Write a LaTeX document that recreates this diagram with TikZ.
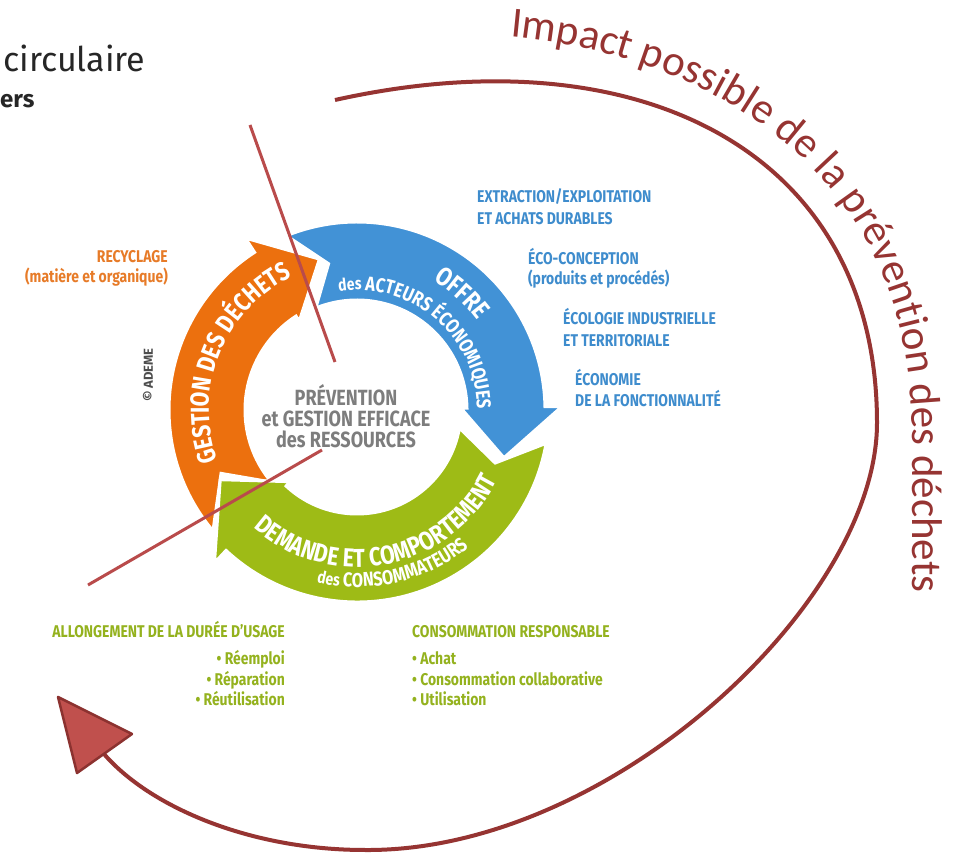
\documentclass[tikz,border=0pt]{standalone}
\usepackage{fontspec}
\usepackage{tikz}
\usetikzlibrary{decorations.text}
\setmainfont{Fira Sans}
\newfontfamily\adfont[FakeStretch=0.82]{Fira Sans}
\newfontfamily\calfont{Carlito}

\definecolor{ringorange}{RGB}{236,112,14}
\definecolor{ringblue}{RGB}{66,146,214}
\definecolor{ringgreen}{RGB}{158,187,22}
\definecolor{txtblue}{RGB}{62,140,205}
\definecolor{txtorange}{RGB}{231,123,40}
\definecolor{txtgreen}{RGB}{148,178,30}
\definecolor{txtgray}{RGB}{125,125,125}
\definecolor{impactred}{RGB}{150,52,50}
\definecolor{slashred}{RGB}{185,75,75}
\definecolor{headfill}{RGB}{192,80,77}
\definecolor{headline}{RGB}{140,50,48}

\newcommand\ringbig{\adfont\bfseries\fontsize{26}{26}\selectfont\color{white}}
\newcommand\ringmid{\adfont\bfseries\fontsize{20}{20}\selectfont\color{white}}
\newcommand\ringsmall{\adfont\bfseries\fontsize{17}{17}\selectfont\color{white}}

\tikzset{
  sidetext/.style={font=\adfont\bfseries\fontsize{17}{17}\selectfont, inner sep=0pt},
  slash/.style={slashred, line width=3pt},
  impactline/.style={impactred, line width=4pt}
}

\begin{document}
\begin{tikzpicture}[x=1pt,y=1pt]
  \useasboundingbox (0,0) rectangle (959,852);
  \fill[white] (0,0) rectangle (959,852);

  % titre coupe
  \node[anchor=base west, inner sep=0pt, font=\fontsize{34}{34}\selectfont, text=black!85] (title) at (3,780) {circulaire};
  \node[anchor=base west, inner sep=0pt, font=\bfseries\fontsize{24}{24}\selectfont, text=black!85] (subtitle) at (0,744) {ers};

  % anneau
  \begin{scope}[shift={(357,442)}]
    \foreach \col/\ta/\na/\ba/\tip/\ri/\ro in {ringorange/220/205/123/104/112/188, ringblue/112/101/1/-18/110/188, ringgreen/-10/-21/-133/-153/104/192}{
      \pgfmathsetmacro\rmid{(\ri+\ro)/2}
      \pgfmathsetmacro\rin{\ri-6}
      \pgfmathsetmacro\rout{\ro+17}
      \pgfmathsetmacro\rtip{(\rin+\rout)/2}
      \filldraw[fill=\col, draw=white, line width=3pt, line join=miter]
        (\ta:\ro) arc[start angle=\ta, end angle=\ba, radius=\ro pt] -- (\ba:\rout) -- (\tip:\rtip)
        -- (\ba:\rin) -- (\ba:\ri) arc[start angle=\ba, end angle=\ta, radius=\ri pt] -- (\na:\rmid) -- cycle;
    }
    % textes sur l'anneau
    \path[decorate, decoration={text along path, text align=center,
      text={|\ringbig|GESTION DES DÉCHETS}}] (218:148) arc[start angle=218, end angle=98, radius=148pt];
    \path[decorate, decoration={text along path, text align=center,
      text={|\ringbig|OFFRE}}] (78:150) arc[start angle=78, end angle=18, radius=150pt];
    \path[decorate, decoration={text along path, text align=center,
      text={|\ringsmall|des |\ringmid|ACTEURS ÉCONOMIQUES}}] (105:120) arc[start angle=105, end angle=-6, radius=120pt];
    \path[decorate, decoration={text along path, text align=center,
      text={|\ringbig|DEMANDE ET COMPORTEMENT}}] (221:157) arc[start angle=221, end angle=341, radius=157pt];
    \path[decorate, decoration={text along path, text align=center,
      text={|\ringsmall|des |\ringmid|CONSOMMATEURS}}] (238:177) arc[start angle=238, end angle=328, radius=177pt];
  \end{scope}

  % centre
  \node[align=center, inner sep=0pt, text=txtgray, font=\adfont\bfseries\fontsize{22}{21}\selectfont] (centre) at (346,436)
    {PRÉVENTION\\et GESTION EFFICACE\\des RESSOURCES};
  \node[rotate=90, inner sep=0pt, text=black!70, font=\bfseries\fontsize{13}{13}\selectfont] (ademe) at (148,477) {© ADEME};

  % textes lateraux
  \node[sidetext, text=txtorange, anchor=base east] (recy) at (168,589) {RECYCLAGE};
  \node[sidetext, text=txtorange, anchor=base east] (recyb) at (168,569) {(matière et organique)};

  \node[sidetext, text=txtblue, anchor=base west] (extr) at (477,649) {EXTRACTION/EXPLOITATION};
  \node[sidetext, text=txtblue, anchor=base west] (extrb) at (477,627) {ET ACHATS DURABLES};
  \node[sidetext, text=txtblue, anchor=base west] (eco) at (528,587) {ÉCO-CONCEPTION};
  \node[sidetext, text=txtblue, anchor=base west] (ecob) at (528,567) {(produits et procédés)};
  \node[sidetext, text=txtblue, anchor=base west] (indu) at (563,527) {ÉCOLOGIE INDUSTRIELLE};
  \node[sidetext, text=txtblue, anchor=base west] (indub) at (563,505) {ET TERRITORIALE};
  \node[sidetext, text=txtblue, anchor=base west] (fonc) at (575,466) {ÉCONOMIE};
  \node[sidetext, text=txtblue, anchor=base west] (foncb) at (575,445) {DE LA FONCTIONNALITÉ};

  \node[sidetext, text=txtgreen, anchor=base east] (allo) at (285,214) {ALLONGEMENT DE LA DURÉE D’USAGE};
  \node[sidetext, text=txtgreen, anchor=base east] (allo1) at (285,187) {• Réemploi};
  \node[sidetext, text=txtgreen, anchor=base east] (allo2) at (285,166) {• Réparation};
  \node[sidetext, text=txtgreen, anchor=base east] (allo3) at (285,146) {• Réutilisation};
  \node[sidetext, text=txtgreen, anchor=base west] (cons) at (412,214) {CONSOMMATION RESPONSABLE};
  \node[sidetext, text=txtgreen, anchor=base west] (cons1) at (412,187) {• Achat};
  \node[sidetext, text=txtgreen, anchor=base west] (cons2) at (412,166) {• Consommation collaborative};
  \node[sidetext, text=txtgreen, anchor=base west] (cons3) at (412,146) {• Utilisation};

  % traits rouges
  \draw[slash] (250,727) coordinate (s1a) -- (335,490) coordinate (s1b);
  \draw[slash] (88,267) coordinate (s2a) -- (322,402) coordinate (s2b);

  % grande fleche
  \coordinate (arcstart) at (335,752);
  \coordinate (arcright) at (877,429);
  \coordinate (arcbottom) at (365,2);
  \coordinate (arcend) at (104,98);
  \draw[impactline] (arcstart) .. controls (640,820) and (877,700) .. (arcright)
    .. controls (877,250) and (610,0) .. (arcbottom)
    .. controls (250,2) and (150,45) .. (arcend);
  \filldraw[fill=headfill, draw=headline, line width=2.5pt, line join=round]
    (58,155) coordinate (h1) -- (132,118) coordinate (h2) -- (77,79) coordinate (h3) -- cycle;

  \path[decorate, decoration={text along path,
    text={|\calfont\fontsize{43}{43}\selectfont\color{impactred}|Impact possible de la prévention des déchets}}]
    (510,815) .. controls (725,795) and (910,670) .. (912,425) -- (912,180);
\end{tikzpicture}
\end{document}
